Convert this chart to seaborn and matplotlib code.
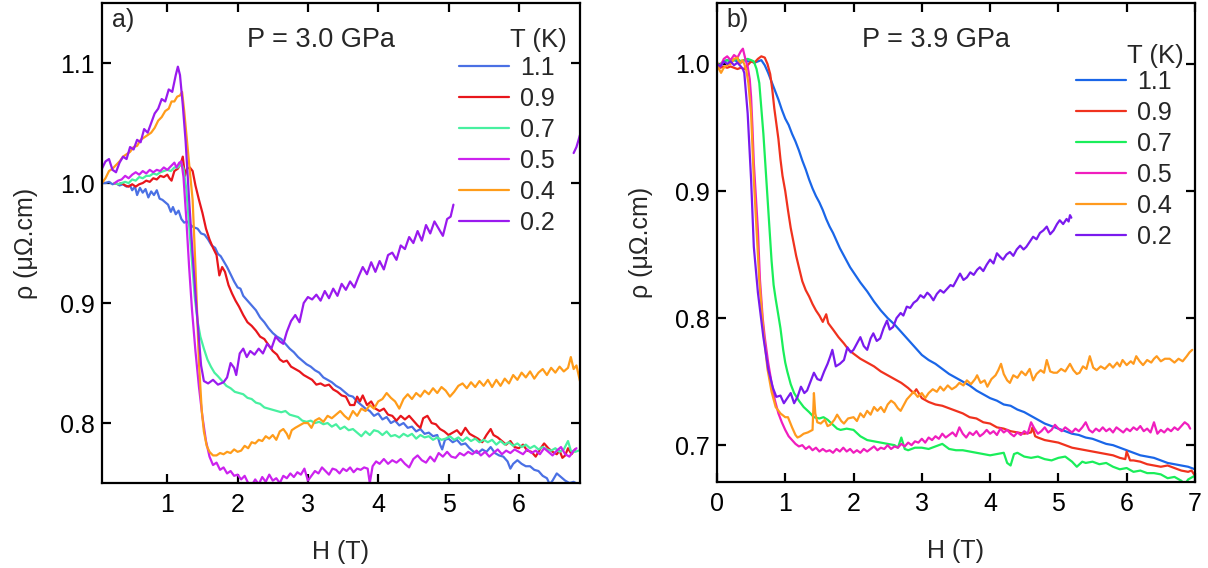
"""Magnetoresistance curves rho(H) at two pressures, two panels."""

import matplotlib
matplotlib.use("Agg")
import matplotlib.pyplot as plt
import numpy as np
import pandas as pd
import seaborn as sns

# ---- data: (H [T], rho [uOhm.cm]) per temperature ----
temps = ["1.1", "0.9", "0.7", "0.5", "0.4", "0.2"]

# panel a) P = 3.0 GPa
a_t11 = [(0.07, 1.0), (0.12, 1.0), (0.17, 1.001), (0.22, 0.999), (0.27, 1.0), (0.32, 0.998), (0.37, 0.999),
         (0.42, 0.997), (0.47, 0.998), (0.5, 0.994), (0.54, 0.997), (0.57, 0.99), (0.61, 0.996), (0.65, 0.992),
         (0.69, 0.995), (0.73, 0.988), (0.77, 0.993), (0.81, 0.99), (0.85, 0.994), (0.89, 0.987), (0.93, 0.986),
         (0.97, 0.984), (1.01, 0.982), (1.05, 0.976), (1.08, 0.98), (1.12, 0.974), (1.16, 0.977), (1.2, 0.97),
         (1.24, 0.967), (1.28, 0.968), (1.33, 0.965), (1.38, 0.963), (1.43, 0.962), (1.48, 0.958), (1.53, 0.957),
         (1.58, 0.953), (1.63, 0.948), (1.68, 0.946), (1.72, 0.941), (1.76, 0.939), (1.8, 0.935), (1.85, 0.93),
         (1.9, 0.924), (1.95, 0.918), (2.0, 0.913), (2.04, 0.912), (2.08, 0.906), (2.14, 0.902), (2.2, 0.898),
         (2.26, 0.894), (2.32, 0.888), (2.38, 0.884), (2.44, 0.879), (2.5, 0.875), (2.56, 0.872), (2.62, 0.87),
         (2.68, 0.866), (2.74, 0.862), (2.8, 0.859), (2.86, 0.855), (2.92, 0.852), (2.98, 0.849), (3.04, 0.847),
         (3.1, 0.844), (3.16, 0.842), (3.22, 0.838), (3.28, 0.836), (3.34, 0.834), (3.4, 0.831), (3.46, 0.829),
         (3.52, 0.826), (3.58, 0.823), (3.64, 0.822), (3.7, 0.818), (3.76, 0.815), (3.82, 0.812), (3.88, 0.81),
         (3.94, 0.806), (4.0, 0.808), (4.06, 0.803), (4.12, 0.805), (4.18, 0.8), (4.24, 0.802), (4.3, 0.798),
         (4.36, 0.8), (4.42, 0.796), (4.48, 0.797), (4.54, 0.793), (4.6, 0.795), (4.66, 0.791), (4.72, 0.792),
         (4.78, 0.789), (4.84, 0.79), (4.88, 0.782), (4.91, 0.778), (4.95, 0.786), (5.0, 0.787), (5.06, 0.784),
         (5.12, 0.786), (5.18, 0.782), (5.24, 0.783), (5.3, 0.779), (5.36, 0.776), (5.42, 0.775), (5.48, 0.778),
         (5.54, 0.776), (5.6, 0.78), (5.66, 0.775), (5.72, 0.773), (5.78, 0.772), (5.84, 0.768), (5.88, 0.762),
         (5.92, 0.766), (5.98, 0.769), (6.04, 0.766), (6.1, 0.764), (6.16, 0.764), (6.22, 0.761), (6.28, 0.76),
         (6.34, 0.756), (6.4, 0.754), (6.44, 0.749), (6.48, 0.752), (6.54, 0.758), (6.6, 0.755), (6.66, 0.752),
         (6.72, 0.75), (6.78, 0.751), (6.84, 0.749)]
a_t09 = [(0.25, 1.0), (0.3, 0.999), (0.35, 1.0), (0.4, 0.998), (0.45, 0.997), (0.5, 0.999), (0.55, 0.997),
         (0.6, 0.999), (0.65, 1.0), (0.7, 1.002), (0.75, 1.001), (0.8, 1.004), (0.85, 1.003), (0.9, 1.006),
         (0.95, 1.005), (1.0, 1.007), (1.03, 1.004), (1.06, 1.002), (1.1, 1.01), (1.15, 1.012), (1.19, 1.016),
         (1.22, 1.022), (1.25, 1.006), (1.28, 1.012), (1.32, 1.013), (1.36, 1.01), (1.4, 0.998), (1.45, 0.986),
         (1.5, 0.975), (1.55, 0.962), (1.6, 0.953), (1.65, 0.946), (1.7, 0.94), (1.74, 0.923), (1.78, 0.93),
         (1.82, 0.926), (1.87, 0.915), (1.92, 0.908), (1.97, 0.902), (2.02, 0.897), (2.08, 0.89), (2.14, 0.884),
         (2.2, 0.881), (2.26, 0.877), (2.32, 0.872), (2.38, 0.87), (2.44, 0.865), (2.5, 0.86), (2.56, 0.857),
         (2.6, 0.853), (2.65, 0.851), (2.7, 0.852), (2.76, 0.847), (2.82, 0.845), (2.88, 0.843), (2.94, 0.84),
         (3.0, 0.838), (3.06, 0.836), (3.12, 0.832), (3.18, 0.833), (3.24, 0.831), (3.3, 0.832), (3.36, 0.828),
         (3.42, 0.826), (3.48, 0.823), (3.54, 0.822), (3.6, 0.815), (3.66, 0.815), (3.7, 0.822), (3.74, 0.818),
         (3.78, 0.823), (3.84, 0.815), (3.9, 0.818), (3.96, 0.812), (4.02, 0.81), (4.08, 0.812), (4.14, 0.807),
         (4.2, 0.806), (4.26, 0.802), (4.32, 0.806), (4.38, 0.803), (4.44, 0.806), (4.5, 0.802), (4.56, 0.798),
         (4.6, 0.796), (4.64, 0.804), (4.7, 0.806), (4.76, 0.8), (4.82, 0.799), (4.88, 0.795), (4.94, 0.793),
         (5.0, 0.79), (5.06, 0.792), (5.12, 0.794), (5.18, 0.79), (5.24, 0.796), (5.3, 0.791), (5.36, 0.789),
         (5.42, 0.787), (5.48, 0.784), (5.54, 0.79), (5.6, 0.795), (5.64, 0.79), (5.7, 0.788), (5.76, 0.785),
         (5.82, 0.782), (5.88, 0.785), (5.94, 0.78), (6.0, 0.779), (6.06, 0.782), (6.12, 0.777), (6.18, 0.776),
         (6.24, 0.772), (6.3, 0.778), (6.36, 0.783), (6.42, 0.779), (6.48, 0.776), (6.54, 0.774), (6.58, 0.777),
         (6.62, 0.771), (6.66, 0.773), (6.7, 0.779), (6.75, 0.774), (6.8, 0.778)]
a_t07 = [(0.25, 1.0), (0.3, 0.999), (0.35, 1.0), (0.4, 1.001), (0.45, 1.0), (0.5, 1.003), (0.55, 1.002),
         (0.6, 1.005), (0.65, 1.004), (0.7, 1.006), (0.75, 1.006), (0.8, 1.008), (0.85, 1.007), (0.9, 1.009),
         (0.95, 1.01), (1.0, 1.011), (1.05, 1.01), (1.1, 1.013), (1.15, 1.013), (1.2, 1.016), (1.23, 1.012),
         (1.27, 0.995), (1.31, 0.965), (1.35, 0.935), (1.39, 0.905), (1.43, 0.885), (1.47, 0.872), (1.52, 0.862),
         (1.57, 0.853), (1.62, 0.847), (1.67, 0.842), (1.72, 0.839), (1.78, 0.835), (1.84, 0.831), (1.9, 0.829),
         (1.96, 0.826), (2.02, 0.825), (2.08, 0.824), (2.14, 0.821), (2.2, 0.82), (2.26, 0.817), (2.32, 0.816),
         (2.38, 0.813), (2.44, 0.812), (2.5, 0.811), (2.56, 0.81), (2.62, 0.809), (2.68, 0.81), (2.74, 0.807),
         (2.8, 0.806), (2.86, 0.805), (2.92, 0.802), (2.98, 0.801), (3.04, 0.802), (3.1, 0.8), (3.16, 0.801),
         (3.22, 0.799), (3.28, 0.8), (3.34, 0.797), (3.4, 0.799), (3.46, 0.795), (3.52, 0.797), (3.58, 0.794),
         (3.64, 0.795), (3.7, 0.792), (3.76, 0.789), (3.82, 0.793), (3.88, 0.79), (3.94, 0.794), (4.0, 0.793),
         (4.06, 0.79), (4.12, 0.793), (4.18, 0.789), (4.24, 0.79), (4.3, 0.788), (4.36, 0.791), (4.42, 0.789),
         (4.48, 0.791), (4.54, 0.787), (4.6, 0.79), (4.66, 0.788), (4.72, 0.789), (4.78, 0.786), (4.84, 0.788),
         (4.9, 0.786), (4.96, 0.787), (5.02, 0.789), (5.08, 0.786), (5.14, 0.788), (5.2, 0.785), (5.26, 0.788),
         (5.32, 0.785), (5.38, 0.787), (5.44, 0.784), (5.5, 0.786), (5.56, 0.784), (5.62, 0.786), (5.68, 0.782),
         (5.74, 0.785), (5.8, 0.782), (5.86, 0.784), (5.92, 0.781), (5.98, 0.783), (6.04, 0.78), (6.1, 0.782),
         (6.16, 0.779), (6.22, 0.781), (6.28, 0.778), (6.34, 0.78), (6.4, 0.778), (6.46, 0.777), (6.52, 0.779),
         (6.58, 0.776), (6.64, 0.778), (6.7, 0.785), (6.74, 0.777), (6.8, 0.776), (6.85, 0.777)]
a_t05 = [(0.25, 1.0), (0.3, 1.002), (0.35, 1.003), (0.4, 1.006), (0.45, 1.004), (0.5, 1.007), (0.55, 1.009),
         (0.6, 1.007), (0.65, 1.01), (0.7, 1.008), (0.75, 1.011), (0.8, 1.009), (0.85, 1.011), (0.9, 1.01),
         (0.95, 1.013), (1.0, 1.011), (1.05, 1.014), (1.1, 1.017), (1.13, 1.013), (1.17, 1.017), (1.2, 1.018),
         (1.23, 1.005), (1.27, 0.97), (1.31, 0.93), (1.35, 0.895), (1.4, 0.86), (1.45, 0.83), (1.5, 0.805),
         (1.55, 0.785), (1.6, 0.772), (1.65, 0.765), (1.7, 0.767), (1.75, 0.761), (1.8, 0.763), (1.85, 0.758),
         (1.9, 0.76), (1.95, 0.756), (2.0, 0.757), (2.05, 0.753), (2.1, 0.756), (2.15, 0.75), (2.2, 0.748),
         (2.25, 0.753), (2.3, 0.749), (2.35, 0.755), (2.4, 0.751), (2.45, 0.757), (2.5, 0.752), (2.55, 0.754),
         (2.6, 0.75), (2.65, 0.756), (2.7, 0.754), (2.75, 0.758), (2.8, 0.755), (2.85, 0.759), (2.9, 0.757),
         (2.95, 0.762), (3.0, 0.752), (3.05, 0.756), (3.1, 0.76), (3.15, 0.758), (3.2, 0.763), (3.25, 0.76),
         (3.3, 0.757), (3.35, 0.762), (3.4, 0.761), (3.45, 0.758), (3.5, 0.762), (3.55, 0.76), (3.6, 0.763),
         (3.65, 0.759), (3.7, 0.762), (3.75, 0.761), (3.8, 0.763), (3.85, 0.762), (3.88, 0.75), (3.92, 0.764),
         (3.97, 0.768), (4.02, 0.766), (4.08, 0.77), (4.14, 0.766), (4.2, 0.769), (4.26, 0.767), (4.32, 0.77),
         (4.38, 0.766), (4.44, 0.763), (4.5, 0.77), (4.56, 0.773), (4.62, 0.769), (4.68, 0.767), (4.74, 0.772),
         (4.8, 0.768), (4.86, 0.775), (4.92, 0.772), (4.98, 0.776), (5.04, 0.772), (5.1, 0.771), (5.16, 0.775),
         (5.22, 0.773), (5.28, 0.776), (5.34, 0.774), (5.4, 0.777), (5.46, 0.773), (5.52, 0.776), (5.58, 0.772),
         (5.64, 0.775), (5.7, 0.778), (5.76, 0.774), (5.82, 0.777), (5.88, 0.775), (5.94, 0.778), (6.0, 0.776),
         (6.06, 0.774), (6.12, 0.778), (6.18, 0.775), (6.24, 0.777), (6.3, 0.774), (6.36, 0.779), (6.42, 0.776),
         (6.48, 0.773), (6.54, 0.777), (6.6, 0.78), (6.66, 0.774), (6.72, 0.772), (6.78, 0.777), (6.82, 0.779)]
a_t04 = [(0.07, 1.0), (0.12, 1.004), (0.17, 1.01), (0.22, 1.012), (0.27, 1.015), (0.32, 1.018), (0.37, 1.022),
         (0.42, 1.024), (0.47, 1.026), (0.52, 1.03), (0.57, 1.031), (0.62, 1.036), (0.67, 1.038), (0.72, 1.04),
         (0.77, 1.042), (0.82, 1.046), (0.87, 1.052), (0.92, 1.055), (0.97, 1.06), (1.02, 1.062), (1.06, 1.068),
         (1.1, 1.068), (1.14, 1.072), (1.18, 1.073), (1.21, 1.076), (1.24, 1.06), (1.28, 1.035), (1.32, 1.01),
         (1.36, 0.986), (1.4, 0.93), (1.45, 0.85), (1.49, 0.81), (1.52, 0.793), (1.56, 0.781), (1.6, 0.776),
         (1.65, 0.773), (1.7, 0.773), (1.75, 0.775), (1.8, 0.774), (1.85, 0.776), (1.9, 0.775), (1.95, 0.778),
         (2.0, 0.776), (2.05, 0.777), (2.1, 0.781), (2.15, 0.779), (2.2, 0.784), (2.25, 0.783), (2.3, 0.786),
         (2.35, 0.785), (2.4, 0.789), (2.45, 0.787), (2.5, 0.79), (2.55, 0.786), (2.6, 0.793), (2.65, 0.795),
         (2.7, 0.791), (2.73, 0.787), (2.77, 0.794), (2.82, 0.796), (2.88, 0.798), (2.94, 0.8), (3.0, 0.8),
         (3.05, 0.796), (3.1, 0.802), (3.16, 0.804), (3.22, 0.801), (3.28, 0.806), (3.34, 0.804), (3.4, 0.807),
         (3.46, 0.81), (3.52, 0.806), (3.58, 0.803), (3.64, 0.81), (3.7, 0.806), (3.76, 0.812), (3.82, 0.81),
         (3.88, 0.815), (3.94, 0.812), (4.0, 0.818), (4.06, 0.82), (4.12, 0.825), (4.18, 0.821), (4.24, 0.818),
         (4.3, 0.812), (4.36, 0.82), (4.42, 0.824), (4.48, 0.82), (4.54, 0.825), (4.6, 0.822), (4.66, 0.827),
         (4.72, 0.824), (4.78, 0.829), (4.84, 0.825), (4.9, 0.83), (4.96, 0.827), (5.02, 0.822), (5.08, 0.826),
         (5.14, 0.831), (5.2, 0.833), (5.26, 0.829), (5.32, 0.834), (5.38, 0.83), (5.44, 0.835), (5.5, 0.831),
         (5.56, 0.836), (5.62, 0.83), (5.68, 0.836), (5.74, 0.831), (5.8, 0.837), (5.86, 0.833), (5.92, 0.84),
         (5.98, 0.836), (6.04, 0.842), (6.1, 0.838), (6.16, 0.843), (6.22, 0.837), (6.28, 0.842), (6.34, 0.845),
         (6.4, 0.84), (6.46, 0.846), (6.52, 0.842), (6.58, 0.847), (6.64, 0.843), (6.7, 0.846), (6.74, 0.855),
         (6.78, 0.845), (6.82, 0.848), (6.87, 0.835)]
a_t02 = [(0.07, 1.012), (0.12, 1.018), (0.17, 1.02), (0.22, 1.011), (0.27, 1.009), (0.32, 1.017), (0.37, 1.022),
         (0.42, 1.02), (0.47, 1.03), (0.52, 1.028), (0.57, 1.036), (0.62, 1.034), (0.67, 1.045), (0.72, 1.042),
         (0.77, 1.05), (0.82, 1.058), (0.87, 1.062), (0.92, 1.07), (0.97, 1.068), (1.02, 1.078), (1.07, 1.076),
         (1.12, 1.09), (1.15, 1.097), (1.18, 1.09), (1.22, 1.065), (1.26, 1.035), (1.31, 0.986), (1.36, 0.94),
         (1.41, 0.9), (1.45, 0.87), (1.48, 0.848), (1.52, 0.835), (1.58, 0.833), (1.65, 0.836), (1.72, 0.832),
         (1.8, 0.834), (1.85, 0.838), (1.9, 0.85), (1.95, 0.846), (1.98, 0.84), (2.03, 0.858), (2.08, 0.862),
         (2.13, 0.855), (2.18, 0.86), (2.24, 0.857), (2.3, 0.862), (2.36, 0.858), (2.42, 0.866), (2.48, 0.862),
         (2.54, 0.872), (2.6, 0.868), (2.65, 0.866), (2.7, 0.876), (2.76, 0.885), (2.82, 0.89), (2.88, 0.884),
         (2.94, 0.9), (3.0, 0.905), (3.06, 0.903), (3.12, 0.907), (3.18, 0.902), (3.24, 0.91), (3.3, 0.904),
         (3.36, 0.912), (3.42, 0.906), (3.48, 0.916), (3.54, 0.911), (3.6, 0.918), (3.66, 0.913), (3.72, 0.922),
         (3.78, 0.93), (3.84, 0.924), (3.9, 0.934), (3.96, 0.926), (4.02, 0.935), (4.08, 0.928), (4.14, 0.94),
         (4.2, 0.942), (4.26, 0.936), (4.32, 0.948), (4.38, 0.945), (4.44, 0.955), (4.5, 0.95), (4.56, 0.96),
         (4.62, 0.952), (4.68, 0.965), (4.74, 0.958), (4.8, 0.968), (4.86, 0.962), (4.92, 0.956), (4.98, 0.97),
         (5.03, 0.972), (5.07, 0.982)]
# piece of the 0.2 K trace visible again at the right edge
a_t02_end = [(6.78, 1.025), (6.82, 1.03), (6.87, 1.04)]

# panel b) P = 3.9 GPa
b_t11 = [(0.0, 1.0), (0.05, 0.998), (0.1, 1.002), (0.15, 1.003), (0.2, 1.002), (0.25, 1.003), (0.3, 1.002),
         (0.35, 1.001), (0.4, 1.003), (0.45, 1.002), (0.5, 1.002), (0.55, 1.001), (0.6, 1.002), (0.65, 1.003),
         (0.7, 0.999), (0.75, 0.993), (0.8, 0.986), (0.85, 0.979), (0.9, 0.972), (0.95, 0.964), (1.0, 0.957),
         (1.05, 0.952), (1.1, 0.945), (1.15, 0.939), (1.2, 0.932), (1.25, 0.924), (1.3, 0.917), (1.35, 0.909),
         (1.4, 0.902), (1.45, 0.896), (1.5, 0.891), (1.55, 0.885), (1.6, 0.878), (1.65, 0.872), (1.7, 0.867),
         (1.75, 0.861), (1.8, 0.855), (1.85, 0.85), (1.9, 0.845), (1.95, 0.84), (2.0, 0.836), (2.05, 0.832),
         (2.1, 0.828), (2.2, 0.821), (2.3, 0.813), (2.4, 0.806), (2.5, 0.8), (2.6, 0.795), (2.7, 0.789),
         (2.8, 0.783), (2.9, 0.777), (3.0, 0.771), (3.1, 0.767), (3.2, 0.764), (3.3, 0.76), (3.4, 0.756),
         (3.5, 0.753), (3.6, 0.75), (3.7, 0.747), (3.8, 0.743), (3.9, 0.74), (4.0, 0.737), (4.1, 0.735),
         (4.2, 0.732), (4.3, 0.731), (4.4, 0.728), (4.5, 0.726), (4.6, 0.723), (4.7, 0.72), (4.8, 0.717),
         (4.9, 0.715), (5.0, 0.713), (5.1, 0.711), (5.2, 0.709), (5.3, 0.708), (5.4, 0.706), (5.5, 0.705),
         (5.6, 0.703), (5.7, 0.701), (5.8, 0.7), (5.9, 0.698), (6.0, 0.696), (6.1, 0.694), (6.2, 0.692),
         (6.3, 0.691), (6.4, 0.69), (6.5, 0.688), (6.6, 0.686), (6.7, 0.685), (6.8, 0.684), (6.9, 0.683),
         (7.0, 0.681)]
b_t09 = [(0.0, 1.0), (0.05, 0.997), (0.1, 0.998), (0.15, 0.997), (0.2, 0.998), (0.25, 0.997), (0.3, 0.996),
         (0.35, 0.997), (0.4, 0.996), (0.45, 0.999), (0.5, 1.002), (0.55, 1.001), (0.6, 1.004), (0.65, 1.006),
         (0.7, 1.005), (0.74, 1.0), (0.78, 0.992), (0.81, 0.98), (0.84, 0.965), (0.87, 0.953), (0.9, 0.941),
         (0.93, 0.925), (0.96, 0.912), (1.0, 0.9), (1.04, 0.885), (1.08, 0.871), (1.12, 0.86), (1.16, 0.849),
         (1.2, 0.84), (1.25, 0.829), (1.3, 0.822), (1.35, 0.817), (1.4, 0.811), (1.45, 0.806), (1.5, 0.802),
         (1.55, 0.797), (1.6, 0.803), (1.63, 0.796), (1.7, 0.791), (1.78, 0.785), (1.86, 0.78), (1.93, 0.775),
         (2.0, 0.772), (2.1, 0.768), (2.2, 0.765), (2.3, 0.762), (2.4, 0.758), (2.5, 0.755), (2.6, 0.752),
         (2.7, 0.749), (2.8, 0.745), (2.88, 0.741), (2.92, 0.744), (3.0, 0.737), (3.1, 0.734), (3.2, 0.732),
         (3.3, 0.731), (3.4, 0.729), (3.5, 0.727), (3.6, 0.725), (3.7, 0.722), (3.8, 0.721), (3.9, 0.718),
         (4.0, 0.717), (4.1, 0.714), (4.2, 0.713), (4.3, 0.711), (4.4, 0.71), (4.5, 0.709), (4.6, 0.71),
         (4.62, 0.714), (4.66, 0.707), (4.7, 0.706), (4.8, 0.704), (4.9, 0.703), (5.0, 0.702), (5.1, 0.7),
         (5.2, 0.698), (5.3, 0.697), (5.4, 0.696), (5.5, 0.695), (5.6, 0.694), (5.7, 0.693), (5.8, 0.692),
         (5.9, 0.69), (5.98, 0.689), (6.0, 0.695), (6.05, 0.688), (6.1, 0.688), (6.2, 0.687), (6.3, 0.685),
         (6.4, 0.684), (6.5, 0.683), (6.6, 0.684), (6.7, 0.682), (6.8, 0.68), (6.9, 0.679), (6.95, 0.68),
         (7.0, 0.676)]
b_t07 = [(0.0, 0.998), (0.05, 1.0), (0.1, 1.002), (0.15, 1.003), (0.2, 1.002), (0.25, 1.003), (0.3, 1.004),
         (0.35, 1.002), (0.4, 1.003), (0.45, 1.004), (0.5, 1.003), (0.54, 1.002), (0.58, 0.996), (0.62, 0.985),
         (0.65, 0.965), (0.68, 0.945), (0.71, 0.92), (0.74, 0.895), (0.77, 0.87), (0.8, 0.845), (0.83, 0.826),
         (0.86, 0.815), (0.9, 0.802), (0.93, 0.792), (0.97, 0.775), (1.0, 0.765), (1.03, 0.758), (1.08, 0.748),
         (1.13, 0.741), (1.2, 0.735), (1.27, 0.73), (1.35, 0.726), (1.42, 0.722), (1.5, 0.721), (1.56, 0.722),
         (1.62, 0.72), (1.7, 0.716), (1.76, 0.713), (1.81, 0.712), (1.9, 0.713), (2.0, 0.712), (2.1, 0.707),
         (2.2, 0.704), (2.3, 0.703), (2.4, 0.702), (2.5, 0.701), (2.6, 0.7), (2.65, 0.698), (2.7, 0.706),
         (2.75, 0.697), (2.8, 0.696), (2.9, 0.698), (3.0, 0.698), (3.1, 0.697), (3.2, 0.699), (3.3, 0.701),
         (3.4, 0.697), (3.5, 0.696), (3.6, 0.696), (3.7, 0.695), (3.8, 0.694), (3.9, 0.693), (4.0, 0.692),
         (4.1, 0.693), (4.2, 0.694), (4.25, 0.686), (4.3, 0.684), (4.35, 0.693), (4.4, 0.694), (4.5, 0.691),
         (4.6, 0.69), (4.7, 0.691), (4.8, 0.689), (4.9, 0.688), (5.0, 0.69), (5.1, 0.691), (5.2, 0.687),
         (5.27, 0.683), (5.35, 0.687), (5.4, 0.686), (5.5, 0.687), (5.6, 0.685), (5.7, 0.686), (5.8, 0.683),
         (5.9, 0.681), (6.0, 0.682), (6.1, 0.679), (6.2, 0.68), (6.3, 0.678), (6.4, 0.678), (6.5, 0.677),
         (6.6, 0.674), (6.7, 0.675), (6.8, 0.672), (6.85, 0.669), (6.9, 0.673), (7.0, 0.676)]
b_t05 = [(0.0, 1.0), (0.05, 0.998), (0.1, 1.004), (0.15, 1.006), (0.2, 1.003), (0.25, 1.007), (0.3, 1.005),
         (0.35, 1.01), (0.38, 1.012), (0.42, 1.003), (0.45, 0.998), (0.48, 0.988), (0.5, 0.974), (0.52, 0.95),
         (0.54, 0.922), (0.57, 0.895), (0.6, 0.869), (0.63, 0.83), (0.67, 0.8), (0.7, 0.785), (0.75, 0.765),
         (0.8, 0.749), (0.85, 0.735), (0.9, 0.725), (0.95, 0.718), (1.0, 0.712), (1.05, 0.707), (1.1, 0.704),
         (1.15, 0.701), (1.2, 0.699), (1.25, 0.7), (1.3, 0.697), (1.35, 0.699), (1.4, 0.696), (1.45, 0.698),
         (1.5, 0.695), (1.55, 0.697), (1.6, 0.695), (1.65, 0.696), (1.7, 0.694), (1.75, 0.697), (1.8, 0.695),
         (1.85, 0.698), (1.9, 0.695), (1.95, 0.697), (2.0, 0.694), (2.05, 0.696), (2.1, 0.694), (2.15, 0.697),
         (2.2, 0.695), (2.25, 0.697), (2.3, 0.699), (2.35, 0.696), (2.4, 0.698), (2.45, 0.697), (2.5, 0.7),
         (2.55, 0.697), (2.6, 0.699), (2.65, 0.698), (2.7, 0.701), (2.75, 0.699), (2.8, 0.702), (2.85, 0.7),
         (2.9, 0.703), (2.95, 0.702), (3.0, 0.705), (3.05, 0.702), (3.1, 0.706), (3.15, 0.704), (3.2, 0.707),
         (3.25, 0.705), (3.3, 0.709), (3.35, 0.706), (3.4, 0.708), (3.45, 0.71), (3.5, 0.707), (3.55, 0.714),
         (3.6, 0.709), (3.65, 0.706), (3.7, 0.71), (3.75, 0.708), (3.8, 0.711), (3.85, 0.707), (3.9, 0.709),
         (3.95, 0.712), (4.0, 0.709), (4.05, 0.711), (4.1, 0.708), (4.15, 0.713), (4.2, 0.71), (4.25, 0.712),
         (4.3, 0.709), (4.35, 0.707), (4.4, 0.71), (4.45, 0.708), (4.5, 0.711), (4.55, 0.709), (4.6, 0.718),
         (4.65, 0.713), (4.7, 0.709), (4.75, 0.711), (4.8, 0.714), (4.85, 0.71), (4.9, 0.712), (4.95, 0.716),
         (5.0, 0.713), (5.05, 0.711), (5.1, 0.714), (5.15, 0.712), (5.2, 0.71), (5.25, 0.713), (5.3, 0.711),
         (5.35, 0.714), (5.4, 0.718), (5.45, 0.712), (5.5, 0.71), (5.55, 0.713), (5.6, 0.711), (5.65, 0.714),
         (5.7, 0.711), (5.75, 0.713), (5.8, 0.71), (5.85, 0.714), (5.9, 0.712), (5.95, 0.71), (6.0, 0.713),
         (6.05, 0.711), (6.1, 0.714), (6.15, 0.712), (6.2, 0.715), (6.25, 0.711), (6.3, 0.713), (6.35, 0.71),
         (6.4, 0.718), (6.45, 0.709), (6.5, 0.712), (6.55, 0.71), (6.6, 0.713), (6.65, 0.711), (6.7, 0.714),
         (6.75, 0.712), (6.8, 0.715), (6.85, 0.718), (6.9, 0.716), (6.93, 0.713)]
b_t04 = [(0.0, 1.002), (0.03, 0.996), (0.06, 0.993), (0.1, 0.997), (0.15, 0.999), (0.2, 1.0), (0.25, 1.004),
         (0.3, 1.005), (0.33, 1.0), (0.37, 1.003), (0.4, 1.0), (0.43, 0.995), (0.46, 0.985), (0.5, 0.961),
         (0.54, 0.909), (0.58, 0.87), (0.62, 0.83), (0.68, 0.79), (0.74, 0.76), (0.8, 0.742), (0.86, 0.73),
         (0.93, 0.725), (1.0, 0.722), (1.04, 0.722), (1.1, 0.714), (1.15, 0.708), (1.18, 0.706), (1.22, 0.707),
         (1.27, 0.709), (1.33, 0.71), (1.4, 0.712), (1.42, 0.741), (1.44, 0.725), (1.47, 0.718), (1.52, 0.717),
         (1.58, 0.72), (1.62, 0.715), (1.66, 0.716), (1.72, 0.72), (1.76, 0.724), (1.82, 0.719), (1.86, 0.717),
         (1.92, 0.721), (2.0, 0.722), (2.05, 0.719), (2.1, 0.725), (2.15, 0.722), (2.2, 0.727), (2.25, 0.724),
         (2.3, 0.73), (2.35, 0.727), (2.4, 0.73), (2.45, 0.726), (2.5, 0.732), (2.55, 0.735), (2.6, 0.733),
         (2.65, 0.729), (2.69, 0.727), (2.74, 0.732), (2.78, 0.736), (2.83, 0.739), (2.88, 0.742), (2.94, 0.738),
         (3.0, 0.741), (3.05, 0.737), (3.1, 0.741), (3.16, 0.744), (3.22, 0.742), (3.27, 0.746), (3.32, 0.743),
         (3.38, 0.747), (3.44, 0.744), (3.5, 0.746), (3.55, 0.749), (3.61, 0.747), (3.66, 0.751), (3.72, 0.748),
         (3.78, 0.752), (3.81, 0.755), (3.86, 0.749), (3.92, 0.751), (3.96, 0.746), (4.02, 0.752), (4.08, 0.755),
         (4.12, 0.759), (4.16, 0.764), (4.2, 0.756), (4.25, 0.751), (4.29, 0.749), (4.34, 0.755), (4.4, 0.753),
         (4.46, 0.758), (4.52, 0.755), (4.58, 0.76), (4.63, 0.751), (4.68, 0.756), (4.74, 0.759), (4.79, 0.757),
         (4.83, 0.767), (4.88, 0.758), (4.93, 0.757), (4.98, 0.757), (5.04, 0.76), (5.1, 0.758), (5.17, 0.764),
         (5.22, 0.759), (5.27, 0.756), (5.31, 0.757), (5.36, 0.762), (5.41, 0.76), (5.46, 0.77), (5.51, 0.761),
         (5.56, 0.759), (5.62, 0.762), (5.68, 0.76), (5.75, 0.764), (5.8, 0.761), (5.86, 0.765), (5.9, 0.762),
         (5.94, 0.767), (6.0, 0.763), (6.06, 0.766), (6.1, 0.764), (6.14, 0.77), (6.19, 0.766), (6.24, 0.763),
         (6.3, 0.767), (6.36, 0.765), (6.4, 0.768), (6.44, 0.77), (6.5, 0.766), (6.56, 0.768), (6.63, 0.768),
         (6.7, 0.765), (6.76, 0.768), (6.82, 0.766), (6.88, 0.77), (6.92, 0.773), (6.96, 0.775)]
b_t02 = [(0.0, 1.0), (0.05, 0.998), (0.1, 1.002), (0.15, 1.0), (0.2, 1.002), (0.25, 0.999), (0.3, 1.001),
         (0.35, 0.998), (0.38, 0.996), (0.4, 0.993), (0.45, 0.961), (0.5, 0.909), (0.54, 0.856), (0.6, 0.82),
         (0.68, 0.785), (0.75, 0.76), (0.82, 0.745), (0.87, 0.738), (0.93, 0.739), (0.98, 0.733), (1.03, 0.737),
         (1.08, 0.741), (1.13, 0.733), (1.18, 0.738), (1.23, 0.746), (1.28, 0.741), (1.32, 0.743), (1.37, 0.75),
         (1.42, 0.757), (1.47, 0.752), (1.52, 0.751), (1.57, 0.758), (1.62, 0.764), (1.66, 0.77), (1.69, 0.775),
         (1.74, 0.762), (1.8, 0.764), (1.86, 0.767), (1.91, 0.777), (1.96, 0.773), (2.0, 0.775), (2.05, 0.78),
         (2.1, 0.785), (2.15, 0.778), (2.2, 0.775), (2.25, 0.784), (2.29, 0.788), (2.34, 0.782), (2.39, 0.784),
         (2.44, 0.792), (2.49, 0.798), (2.53, 0.791), (2.58, 0.793), (2.63, 0.8), (2.69, 0.804), (2.73, 0.802),
         (2.78, 0.809), (2.83, 0.808), (2.88, 0.812), (2.93, 0.814), (2.98, 0.818), (3.03, 0.816), (3.08, 0.82),
         (3.12, 0.818), (3.17, 0.814), (3.22, 0.819), (3.27, 0.822), (3.32, 0.82), (3.37, 0.823), (3.42, 0.826),
         (3.46, 0.825), (3.51, 0.83), (3.56, 0.835), (3.61, 0.83), (3.66, 0.832), (3.71, 0.836), (3.76, 0.834),
         (3.81, 0.838), (3.85, 0.84), (3.9, 0.837), (3.95, 0.842), (4.0, 0.846), (4.05, 0.843), (4.1, 0.851),
         (4.15, 0.848), (4.19, 0.846), (4.24, 0.85), (4.29, 0.852), (4.34, 0.849), (4.39, 0.854), (4.44, 0.857),
         (4.49, 0.854), (4.53, 0.856), (4.58, 0.86), (4.63, 0.864), (4.68, 0.862), (4.73, 0.867), (4.78, 0.869),
         (4.83, 0.872), (4.88, 0.866), (4.93, 0.869), (4.98, 0.874), (5.02, 0.877), (5.07, 0.874), (5.12, 0.878),
         (5.15, 0.876), (5.17, 0.881), (5.19, 0.879)]

colors_a = ["#4a70e4", "#e8161c", "#48f0a0", "#cc22ee", "#ff9c1a", "#9a1aee"]
colors_b = ["#1a66e8", "#f0321e", "#1aee5a", "#f01ebe", "#ff9a1e", "#7a1aee"]


def to_frame(curves):
    """Stack (H, rho) pairs into long form: one row per point."""
    rows = []
    for temp, seg, pts in curves:
        for h, rho in pts:
            rows.append({"H": h, "rho": rho, "T": temp, "seg": seg})
    return pd.DataFrame(rows)


df_a = to_frame([("1.1", 0, a_t11), ("0.9", 0, a_t09), ("0.7", 0, a_t07), ("0.5", 0, a_t05),
                 ("0.4", 0, a_t04), ("0.2", 0, a_t02), ("0.2", 1, a_t02_end)])
df_b = to_frame([("1.1", 0, b_t11), ("0.9", 0, b_t09), ("0.7", 0, b_t07), ("0.5", 0, b_t05),
                 ("0.4", 0, b_t04), ("0.2", 0, b_t02)])

sns.set_theme(style="ticks")
plt.rcParams["font.family"] = ["Liberation Sans", "DejaVu Sans"]
plt.rcParams["font.size"] = 18
plt.rcParams["axes.linewidth"] = 1.6

fig = plt.figure(figsize=(12.08, 5.68), dpi=100)
ax_a = fig.add_axes([0.0844, 0.1496, 0.3957, 0.845])
ax_b = fig.add_axes([0.5935, 0.1514, 0.3957, 0.8434])

panels = [
    (ax_a, df_a, colors_a, (0.07, 6.87), (0.75, 1.15), [1, 2, 3, 4, 5, 6], [0.8, 0.9, 1.0, 1.1],
     "a)", "P = 3.0 GPa", (0.747, 0.89), (0.912, 0.923)),
    (ax_b, df_b, colors_b, (0.0, 7.0), (0.671, 1.048), [0, 1, 2, 3, 4, 5, 6, 7], [0.7, 0.8, 0.9, 1.0],
     "b)", "P = 3.9 GPa", (0.751, 0.86), (0.918, 0.89)),
]

for ax, df, cols, xlim, ylim, xt, yt, tag, ptxt, leg_xy, title_xy in panels:
    sns.lineplot(data=df, x="H", y="rho", hue="T", hue_order=temps,
                 palette=dict(zip(temps, cols)), units="seg", estimator=None,
                 sort=False, linewidth=1.6, ax=ax)
    ax.set_xlim(*xlim)
    ax.set_ylim(*ylim)
    ax.set_xticks(xt)
    ax.set_yticks(yt)
    ax.set_yticklabels([f"{v:.1f}" for v in yt])
    ax.tick_params(direction="in", top=True, right=True, length=6.5, width=1.6,
                   labelsize=18, colors="black")
    ax.tick_params(axis="x", pad=7)
    ax.tick_params(axis="y", pad=5)
    for sp in ax.spines.values():
        sp.set_color("black")
        sp.set_linewidth(1.6)
    ax.set_xlabel("H (T)", fontsize=18, labelpad=17)
    ax.set_ylabel("ρ (μΩ.cm)", fontsize=18, labelpad=16)
    ax.text(0.02, 0.965, tag, transform=ax.transAxes, fontsize=18, ha="left", va="center")
    ax.text(0.458, 0.923, ptxt, transform=ax.transAxes, fontsize=19.5, ha="center", va="center")
    ax.text(title_xy[0], title_xy[1], "T (K)", transform=ax.transAxes, fontsize=18.5,
            ha="center", va="center")
    sns.move_legend(ax, "upper left", bbox_to_anchor=leg_xy, frameon=False, title=None,
                    fontsize=18, handlelength=2.0, handletextpad=0.45, labelspacing=0.28,
                    borderpad=0, borderaxespad=0)

fig.savefig("out.png", dpi=100)
